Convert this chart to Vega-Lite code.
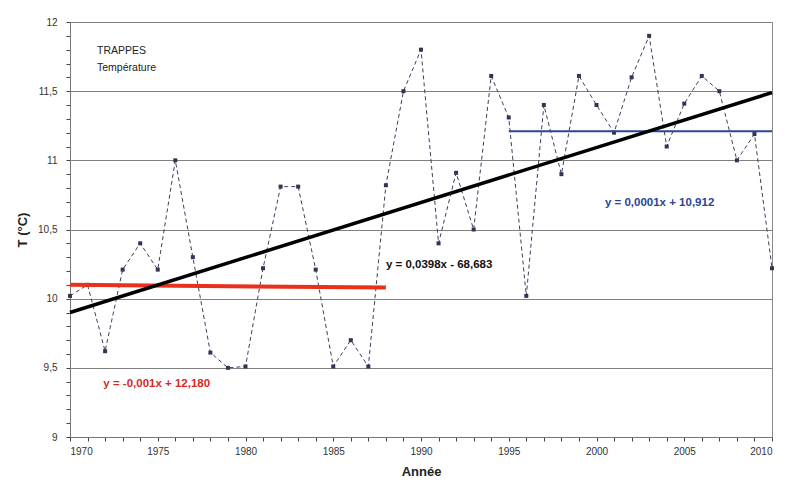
{
  "$schema": "https://vega.github.io/schema/vega-lite/v6.json",
  "width": 702,
  "height": 415,
  "autosize": {"type": "none"},
  "padding": {"left": 70, "top": 22, "right": 19, "bottom": 51},
  "background": "white",
  "config": {
    "font": "Liberation Sans",
    "view": {"stroke": "#888888", "strokeWidth": 1},
    "axis": {"labelFont": "Liberation Sans", "titleFont": "Liberation Sans", "labelFontSize": 10, "titleFontSize": 13, "titleFontWeight": "bold", "labelColor": "#333333", "titleColor": "#222222", "domainColor": "#777777", "tickColor": "#444444", "ticks": true, "tickWidth": 1, "tickSize": 4}
  },
  "datasets": {
    "temp": [
      {"year": 1970, "t": 10.02}, {"year": 1971, "t": 10.1}, {"year": 1972, "t": 9.62}, {"year": 1973, "t": 10.21},
      {"year": 1974, "t": 10.4}, {"year": 1975, "t": 10.21}, {"year": 1976, "t": 11.0}, {"year": 1977, "t": 10.3},
      {"year": 1978, "t": 9.61}, {"year": 1979, "t": 9.5}, {"year": 1980, "t": 9.51}, {"year": 1981, "t": 10.22},
      {"year": 1982, "t": 10.81}, {"year": 1983, "t": 10.81}, {"year": 1984, "t": 10.21}, {"year": 1985, "t": 9.51},
      {"year": 1986, "t": 9.7}, {"year": 1987, "t": 9.51}, {"year": 1988, "t": 10.82}, {"year": 1989, "t": 11.5},
      {"year": 1990, "t": 11.8}, {"year": 1991, "t": 10.4}, {"year": 1992, "t": 10.91}, {"year": 1993, "t": 10.5},
      {"year": 1994, "t": 11.61}, {"year": 1995, "t": 11.31}, {"year": 1996, "t": 10.02}, {"year": 1997, "t": 11.4},
      {"year": 1998, "t": 10.9}, {"year": 1999, "t": 11.61}, {"year": 2000, "t": 11.4}, {"year": 2001, "t": 11.2},
      {"year": 2002, "t": 11.6}, {"year": 2003, "t": 11.9}, {"year": 2004, "t": 11.1}, {"year": 2005, "t": 11.41},
      {"year": 2006, "t": 11.61}, {"year": 2007, "t": 11.5}, {"year": 2008, "t": 11.0}, {"year": 2009, "t": 11.19},
      {"year": 2010, "t": 10.22}
    ],
    "trend": [
      {"year": 1970, "t": 9.9}, {"year": 2010, "t": 11.49}
    ],
    "red": [
      {"year": 1970, "t": 10.1}, {"year": 1988, "t": 10.08}
    ],
    "blue": [
      {"year": 1995, "t": 11.21}, {"year": 2010, "t": 11.21}
    ],
    "labels": [
      {"year": 1971.54, "t": 11.79, "txt": "TRAPPES", "grp": "title"},
      {"year": 1971.54, "t": 11.67, "txt": "Température", "grp": "title"},
      {"year": 1988.0, "t": 10.24, "txt": "y = 0,0398x - 68,683", "grp": "black"},
      {"year": 2000.48, "t": 10.69, "txt": "y = 0,0001x + 10,912", "grp": "blue"},
      {"year": 1971.9, "t": 9.38, "txt": "y = -0,001x + 12,180", "grp": "red"}
    ]
  },
  "layer": [
    {
      "data": {"name": "temp"},
      "mark": {"type": "line", "color": "#3a3f5c", "strokeWidth": 1, "strokeDash": [4, 3], "point": {"shape": "square", "size": 16, "filled": true, "color": "#2f3555"}},
      "encoding": {
        "x": {"field": "year", "type": "quantitative", "title": "Année",
          "scale": {"domain": [1970, 2010], "nice": false, "zero": false},
          "axis": {"values": [1970,1971,1972,1973,1974,1975,1976,1977,1978,1979,1980,1981,1982,1983,1984,1985,1986,1987,1988,1989,1990,1991,1992,1993,1994,1995,1996,1997,1998,1999,2000,2001,2002,2003,2004,2005,2006,2007,2008,2009,2010],
            "tickCount": 1000,
            "grid": false, "labelExpr": "datum.value % 5 == 0 ? datum.label : ''", "format": "d",
            "labelPadding": 5, "titlePadding": 9, "labelOverlap": false}},
        "y": {"field": "t", "type": "quantitative", "title": "T (°C)",
          "scale": {"domain": [9, 12], "nice": false, "zero": false},
          "axis": {"values": [9,9.1,9.2,9.3,9.4,9.5,9.6,9.7,9.8,9.9,10,10.1,10.2,10.3,10.4,10.5,10.6,10.7,10.8,10.9,11,11.1,11.2,11.3,11.4,11.5,11.6,11.7,11.8,11.9,12],
            "tickCount": 1000,
            "labelExpr": "abs(datum.value*2 - round(datum.value*2)) < 0.01 ? replace(format(datum.value, '.1~f'), '.', ',') : ''",
            "grid": true, "gridColor": "#808080", "gridWidth": 1,
            "gridOpacity": {"condition": {"test": "abs(datum.value*2 - round(datum.value*2)) < 0.01", "value": 1}, "value": 0},
            "labelPadding": 9, "titlePadding": 8, "labelOverlap": false}}
      }
    },
    {
      "data": {"name": "red"},
      "mark": {"type": "line", "color": "#e8301c", "strokeWidth": 4},
      "encoding": {"x": {"field": "year", "type": "quantitative"}, "y": {"field": "t", "type": "quantitative"}}
    },
    {
      "data": {"name": "blue"},
      "mark": {"type": "line", "color": "#2a4596", "strokeWidth": 2},
      "encoding": {"x": {"field": "year", "type": "quantitative"}, "y": {"field": "t", "type": "quantitative"}}
    },
    {
      "data": {"name": "trend"},
      "mark": {"type": "line", "color": "#000000", "strokeWidth": 3.5},
      "encoding": {"x": {"field": "year", "type": "quantitative"}, "y": {"field": "t", "type": "quantitative"}}
    },
    {
      "data": {"name": "labels"},
      "transform": [{"filter": "datum.grp == 'title'"}],
      "mark": {"type": "text", "align": "left", "baseline": "middle", "fontSize": 10.5, "color": "#222222"},
      "encoding": {
        "x": {"field": "year", "type": "quantitative"},
        "y": {"field": "t", "type": "quantitative"},
        "text": {"field": "txt"}
      }
    },
    {
      "data": {"name": "labels"},
      "transform": [{"filter": "datum.grp != 'title'"}],
      "mark": {"type": "text", "align": "left", "baseline": "middle", "fontSize": 11.5, "fontWeight": "bold"},
      "encoding": {
        "x": {"field": "year", "type": "quantitative"},
        "y": {"field": "t", "type": "quantitative"},
        "text": {"field": "txt"},
        "color": {"field": "grp", "type": "nominal", "legend": null,
          "scale": {"domain": ["black", "blue", "red"], "range": ["#111111", "#2a4596", "#d8281c"]}}
      }
    }
  ]
}
